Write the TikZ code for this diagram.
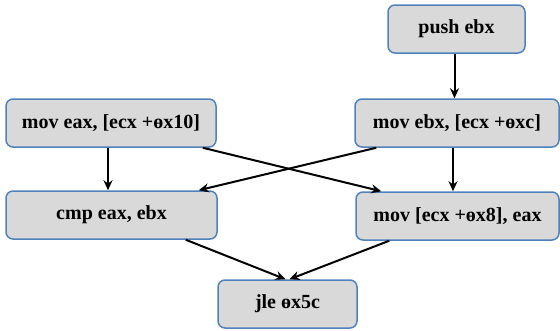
\documentclass[tikz,border=0pt]{standalone}
\usepackage{fontspec}
\setmainfont{Liberation Serif}
\usetikzlibrary{arrows.meta}
\definecolor{boxfill}{HTML}{D9D9D9}
\definecolor{boxline}{HTML}{4F81BD}
\begin{document}
\begin{tikzpicture}[x=1pt,y=-1pt,
  instr/.style={draw=boxline,fill=boxfill,line width=1.5pt,rounded corners=7pt,
    minimum height=48pt,inner sep=0pt,font=\fontsize{20}{22}\selectfont\bfseries},
  flow/.style={line width=2pt,-{Stealth[length=10pt,width=9pt]}}]
\useasboundingbox (0,0) rectangle (560,330);
% instruction blocks
\node[instr,minimum width=137pt] (push) at (456.5,29) {push ebx};
\node[instr,minimum width=210pt] (ldeax) at (111,123) {mov eax, [ecx +өx10]};
\node[instr,minimum width=204pt] (ldebx) at (457,123) {mov ebx, [ecx +өxc]};
\node[instr,minimum width=211pt] (cmp) at (111.5,215) {cmp eax, ebx};
\node[instr,minimum width=203pt] (store) at (457.5,216) {mov [ecx +өx8], eax};
\node[instr,minimum width=139pt] (jle) at (287.5,304) {jle өx5c};
% control flow
\draw[flow] ([xshift=-2pt]push.south) -- ([xshift=-2pt]push.south |- ldebx.north);
\draw[flow] ([xshift=-3pt]ldeax.south) -- ([xshift=-3pt]ldeax.south |- cmp.north);
\draw[flow] ([xshift=-4pt]ldebx.south) -- ([xshift=-4pt]ldebx.south |- store.north);
\draw[flow] ([xshift=-14pt]ldeax.south east) -- ([xshift=26pt]store.north west);
\draw[flow] ([xshift=22pt]ldebx.south west) -- ([xshift=-19pt]cmp.north east);
\draw[flow] ([xshift=-32pt]cmp.south east) -- ([xshift=-2pt]jle.north);
\draw[flow] ([xshift=34pt]store.south west) -- ([xshift=2pt]jle.north);
\end{tikzpicture}
\end{document}
